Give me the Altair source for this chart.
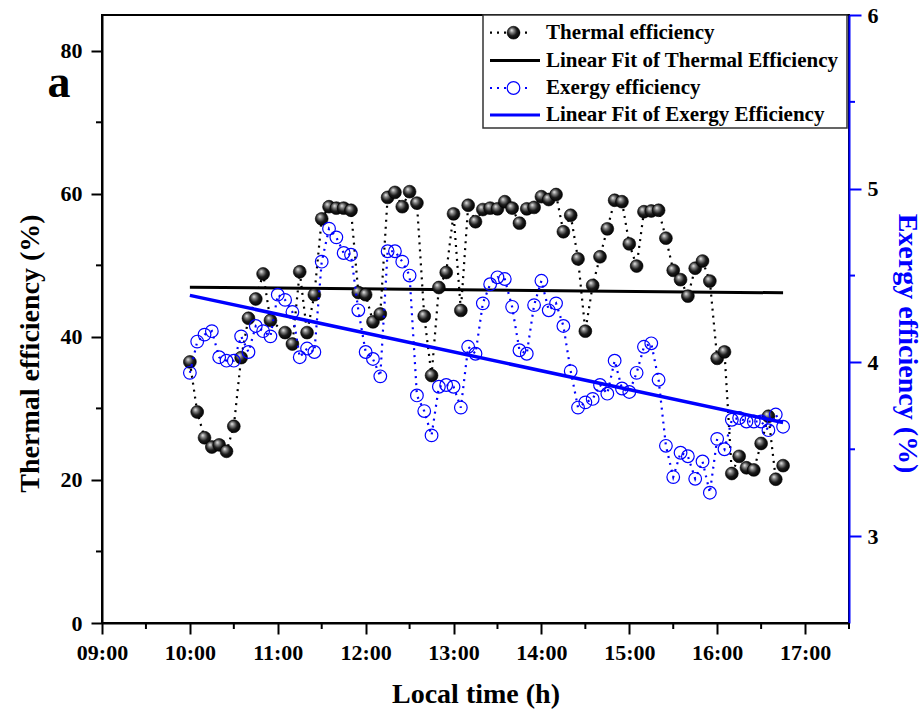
import altair as alt
import pandas as pd

# Sampling times: every 5 minutes from 10:00 to 16:45
local_time = [f"{10 + m // 60:02d}:{m % 60:02d}" for m in range(0, 410, 5)]

# Thermal efficiency (%) at each sampling time (None = no reading)
thermal = [
    36.5, 29.5, 25.9, 24.6, 24.9, 24.0, 27.5, 37.1, 42.6, 45.3,
    48.8, 42.3, None, 40.6, 39.0, 49.1, 40.6, 45.9, 56.5, 58.2,
    58.0, 58.0, 57.7, 46.2, 45.9, 42.1, 43.2, 59.5, 60.2, 58.2,
    60.3, 58.7, 42.9, 34.6, 46.9, 49.0, 57.2, 43.7, 58.4, 56.1,
    57.8, 58.0, 57.9, 58.9, 58.0, 55.9, 57.9, 58.1, 59.6, 59.2,
    59.9, 54.7, 57.0, 50.9, 40.8, 47.2, 51.2, 55.1, 59.1, 58.9,
    53.0, 49.9, 57.5, 57.6, 57.7, 53.8, 49.3, 48.0, 45.7, 49.6,
    50.6, 47.8, 37.0, 37.9, 20.9, 23.3, 21.7, 21.4, 25.1, 28.9,
    20.1, 22.0,
]

# Exergy efficiency (%) at each sampling time
exergy = [
    3.94, 4.12, 4.16, 4.18, 4.03, 4.01, 4.01, 4.15, 4.06, 4.21,
    4.18, 4.15, 4.39, 4.36, 4.29, 4.03, 4.08, 4.06, 4.58, 4.77,
    4.72, 4.63, 4.62, 4.30, 4.06, 4.02, 3.92, 4.64, 4.64, 4.58,
    4.50, 3.81, 3.72, 3.58, 3.86, 3.87, 3.86, 3.74, 4.09, 4.05,
    4.34, 4.45, 4.49, 4.48, 4.32, 4.07, 4.05, 4.33, 4.47, 4.30,
    4.34, 4.21, 3.95, 3.74, 3.77, 3.79, 3.87, 3.82, 4.01, 3.85,
    3.83, 3.94, 4.09, 4.11, 3.90, 3.52, 3.34, 3.48, 3.46, 3.33,
    3.43, 3.25, 3.56, 3.50, 3.67, 3.68, 3.66, 3.66, 3.66, 3.61,
    3.70, 3.63,
]

# Axis ticks
hour_ticks = [9, 10, 11, 12, 13, 14, 15, 16, 17]
hour_minor = [9.5, 10.5, 11.5, 12.5, 13.5, 14.5, 15.5, 16.5, 17.5]
thermal_ticks = [0, 20, 40, 60, 80]
thermal_minor = [10, 30, 50, 70]
exergy_ticks = [3, 4, 5, 6]
exergy_minor = [3.5, 4.5, 5.5]

legend_labels = [
    "Thermal efficiency",
    "Linear Fit of Thermal Efficiency",
    "Exergy efficiency",
    "Linear Fit of Exergy Efficiency",
]

FONT = "Liberation Serif"
BLUE = "#0000ff"
W, H = 747, 608

df = pd.DataFrame({"time": local_time, "thermal": thermal, "exergy": exergy})
df["hour"] = df["time"].map(lambda s: int(s[:2]) + int(s[3:]) / 60)
thermal_df = df.dropna(subset=["thermal"])[["hour", "thermal"]]
exergy_df = df[["hour", "exergy"]]

x_enc = alt.X(
    "hour:Q",
    scale=alt.Scale(domain=[9, 17.5], nice=False, zero=False),
    axis=alt.Axis(
        values=hour_ticks,
        labelExpr="(datum.value < 10 ? '0' : '') + datum.value + ':00'",
        title="Local time (h)",
        titleX=W / 2, titleY=71, titleAlign="center", titleBaseline="middle",
        tickSize=11, labelPadding=18, labelBaseline="middle", labelFlush=False,
    ),
)

y_left = alt.Y(
    "thermal:Q",
    scale=alt.Scale(domain=[0, 85], nice=False, zero=False),
    axis=alt.Axis(
        values=thermal_ticks, orient="left",
        title="Thermal efficiency (%)",
        titleAngle=270, titleX=-72, titleY=338, titleAlign="center", titleBaseline="middle",
        tickSize=11, labelPadding=9, labelFlush=False,
    ),
)

y_right = alt.Y(
    "exergy:Q",
    scale=alt.Scale(domain=[2.5, 6], nice=False, zero=False),
    axis=alt.Axis(
        values=exergy_ticks, orient="right",
        title="Exergy efficiency (%)", titleColor=BLUE,
        titleAngle=90, titleX=57, titleY=328, titleAlign="center", titleBaseline="middle",
        domainColor=BLUE, tickColor=BLUE,
        tickSize=12, labelPadding=6, labelFlush=False,
    ),
)

sphere_fill = {
    "gradient": "radial",
    "x1": 0.35, "y1": 0.3, "r1": 0.0,
    "x2": 0.45, "y2": 0.45, "r2": 0.6,
    "stops": [
        {"offset": 0.0, "color": "#f2f2f2"},
        {"offset": 0.25, "color": "#8a8a8a"},
        {"offset": 0.6, "color": "#1a1a1a"},
        {"offset": 1.0, "color": "#000000"},
    ],
}

# ---- thermal efficiency (left axis) ----
thermal_line = alt.Chart(thermal_df).mark_line(
    color="black", strokeWidth=2.2, strokeDash=[2, 5]
).encode(x=x_enc, y=y_left)

thermal_fit = alt.Chart(thermal_df).transform_regression(
    "hour", "thermal", extent=[10, 16.75]
).mark_line(color="black", strokeWidth=3).encode(x=x_enc, y=y_left)

thermal_pts = alt.Chart(thermal_df).mark_point(
    shape="circle", filled=True, fill=sphere_fill, size=165,
    stroke="#000000", strokeWidth=0.6, opacity=1,
).encode(x=x_enc, y=y_left)

x_minor_ticks = alt.Chart(pd.DataFrame({"hour": hour_minor})).mark_rule(
    color="black", strokeWidth=2
).encode(x=x_enc, y=alt.value(H), y2=alt.value(H + 6))

left_minor_ticks = alt.Chart(pd.DataFrame({"thermal": thermal_minor})).mark_rule(
    color="black", strokeWidth=2
).encode(y=y_left, x=alt.value(0), x2=alt.value(-6))

left = alt.layer(thermal_line, thermal_fit, thermal_pts, x_minor_ticks, left_minor_ticks)

# ---- exergy efficiency (right axis) ----
exergy_line = alt.Chart(exergy_df).mark_line(
    color=BLUE, strokeWidth=2.2, strokeDash=[2, 5]
).encode(x=x_enc, y=y_right)

exergy_fit = alt.Chart(exergy_df).transform_regression(
    "hour", "exergy", extent=[10, 16.75]
).mark_line(color=BLUE, strokeWidth=3.5).encode(x=x_enc, y=y_right)

exergy_pts = alt.Chart(exergy_df).mark_point(
    shape="circle", filled=False, size=160, stroke=BLUE, strokeWidth=1.2, opacity=1,
).encode(x=x_enc, y=y_right)

right_minor_ticks = alt.Chart(pd.DataFrame({"exergy": exergy_minor})).mark_rule(
    color=BLUE, strokeWidth=2
).encode(y=y_right, x=alt.value(W), x2=alt.value(W + 6))

right = alt.layer(exergy_line, exergy_fit, exergy_pts, right_minor_ticks)

# ---- legend box ----
one = pd.DataFrame({"k": [0]})
legend_layers = [
    alt.Chart(one).mark_rect(fill="white", stroke="#333333", strokeWidth=1.5).encode(
        x=alt.value(381), x2=alt.value(745), y=alt.value(0), y2=alt.value(113)
    )
]
row_y = [17.7, 45.5, 73.0, 100.0]
for i, label in enumerate(legend_labels):
    yy = row_y[i]
    color = "black" if i < 2 else BLUE
    if i in (0, 2):
        legend_layers.append(
            alt.Chart(one).mark_rule(color=color, strokeWidth=2.2, strokeDash=[2, 5]).encode(
                x=alt.value(388), x2=alt.value(430), y=alt.value(yy)
            )
        )
        if i == 0:
            sym = alt.Chart(one).mark_point(
                shape="circle", filled=True, fill=sphere_fill, size=165,
                stroke="#000000", strokeWidth=0.6, opacity=1,
            )
        else:
            sym = alt.Chart(one).mark_point(
                shape="circle", filled=True, fill="white", size=160,
                stroke=BLUE, strokeWidth=1.2, opacity=1,
            )
        legend_layers.append(sym.encode(x=alt.value(411.5), y=alt.value(yy)))
    else:
        legend_layers.append(
            alt.Chart(one).mark_rule(color=color, strokeWidth=3).encode(
                x=alt.value(388), x2=alt.value(438), y=alt.value(yy)
            )
        )
    legend_layers.append(
        alt.Chart(pd.DataFrame({"label": [label]})).mark_text(
            align="left", baseline="middle", font=FONT, fontSize=21,
            fontWeight="bold", color="black",
        ).encode(text="label:N", x=alt.value(444), y=alt.value(yy))
    )

# panel letter
panel_letter = alt.Chart(pd.DataFrame({"t": ["a"]})).mark_text(
    align="center", baseline="alphabetic", font=FONT, fontSize=46,
    fontWeight="bold", color="black",
).encode(text="t:N", x=alt.value(-43), y=alt.value(82))
legend_layers.append(panel_letter)

legend = alt.layer(*legend_layers)

chart = alt.layer(left, right, legend).resolve_scale(y="independent").properties(
    width=W, height=H,
    autosize=alt.AutoSizeParams(type="none"),
    padding={"left": 102, "top": 15, "right": 74, "bottom": 94},
    background="white",
).configure_view(
    stroke="black", strokeWidth=2
).configure_axis(
    grid=False,
    domainColor="black", domainWidth=2,
    tickColor="black", tickWidth=2,
    labelFont=FONT, labelFontWeight="bold", labelFontSize=22, labelColor="black",
    titleFont=FONT, titleFontWeight="bold", titleFontSize=28, titleColor="black",
)

chart.save("out.html", embed_options={"renderer": "svg", "actions": False})
